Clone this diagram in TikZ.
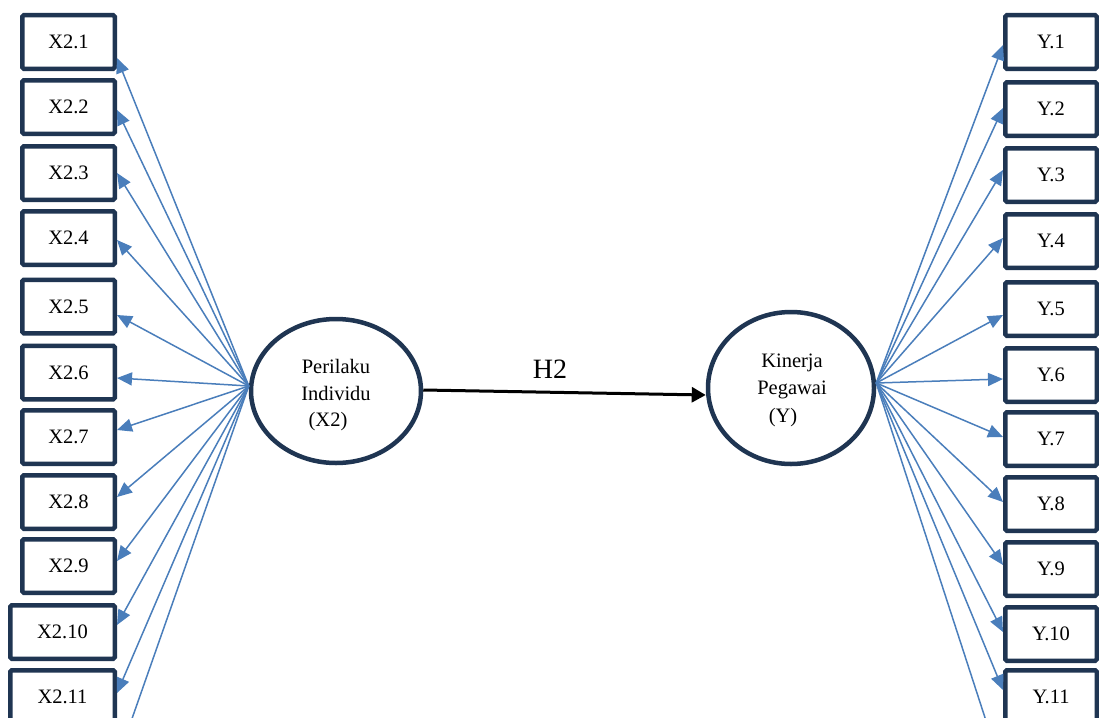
\documentclass[tikz,border=0pt]{standalone}
\usepackage{fontspec}
\setmainfont{Liberation Serif}
\usetikzlibrary{arrows.meta,shapes.geometric}
\definecolor{navy}{HTML}{1F3552}
\definecolor{loadblue}{HTML}{4A7EBB}
\begin{document}
\begin{tikzpicture}[x=1pt,y=-1pt,
  indbox/.style={draw=navy,line width=4.5pt,rounded corners=1.5pt,fill=white,
    minimum width=92.5pt,minimum height=53.5pt,inner sep=0pt,
    font=\fontsize{20.5}{22}\selectfont},
  latent/.style={draw=navy,line width=4.5pt,ellipse,fill=white,inner sep=0pt},
  ltxt/.style={font=\fontsize{20.5}{22}\selectfont,inner sep=0pt},
  load/.style={draw=loadblue,line width=1.5pt,
    -{Triangle[length=15pt,width=13pt]}},
  structpath/.style={draw=black,line width=3pt,-{Triangle[length=14pt,width=15pt]}}]
\clip (0,0) rectangle (1099,717);
\fill[white] (0,0) rectangle (1099,717);

% indicator boxes of X2
\foreach \i/\y in {1/42,2/107,3/173,4/238,5/306.5,6/372.5,7/437,8/502,9/566}
  \node[indbox] (x\i) at (68.5,\y) {X2.\i};
\node[indbox,minimum width=104.5pt] (x10) at (62.5,632) {X2.10};
\node[indbox,minimum width=104.5pt] (x11) at (62.5,697) {X2.11};

% indicator boxes of Y
\foreach \i/\y in {1/42,2/109,3/175,4/241,5/309,6/375,7/439,8/504,9/569,10/634,11/697}
  \node[indbox,minimum width=91.5pt] (y\i) at (1051,\y) {Y.\i};

% latent variables
\node[latent,minimum width=170pt,minimum height=144pt] (pl) at (336,391) {};
\node[latent,minimum width=166pt,minimum height=152pt] (kp) at (791,388) {};

\node[ltxt] at (336,366) {Perilaku};
\node[ltxt] at (336,393) {Individu};
\node[ltxt] at (328,422) {(X2)};
\node[ltxt] at (792,363) {Kinerja};
\node[ltxt] at (792,390) {Pegawai};
\node[ltxt] at (783,418) {(Y)};

% loadings of X2
\coordinate (lf) at ([yshift=5pt]pl.west);
\foreach \i/\d in {1/-16,2/-3,3/0,4/-2,5/-8.5,6/-5.5,7/7,8/5,9/5,10/7,11/4}
  \draw[load] (lf) -- ([yshift=\d pt]x\i.east);
\coordinate (xmore) at (128,730);
\draw[loadblue,line width=1.5pt] (lf) -- (xmore);

% loadings of Y
\coordinate (rf) at ([yshift=5pt]kp.east);
\foreach \i/\d in {1/-3,2/1,3/5,4/3,5/-6,6/-4,7/2,8/2,9/4,10/2,11/7}
  \draw[load] (rf) -- ([yshift=\d pt]y\i.west);
\coordinate (ymore) at (989,730);
\draw[loadblue,line width=1.5pt] (rf) -- (ymore);

% structural path
\draw[structpath] ([yshift=1pt]pl.east) -- ([yshift=-7pt]kp.west);
\node[font=\fontsize{28}{30}\selectfont,inner sep=0pt] (h2) at (550,369) {H2};
\end{tikzpicture}
\end{document}
